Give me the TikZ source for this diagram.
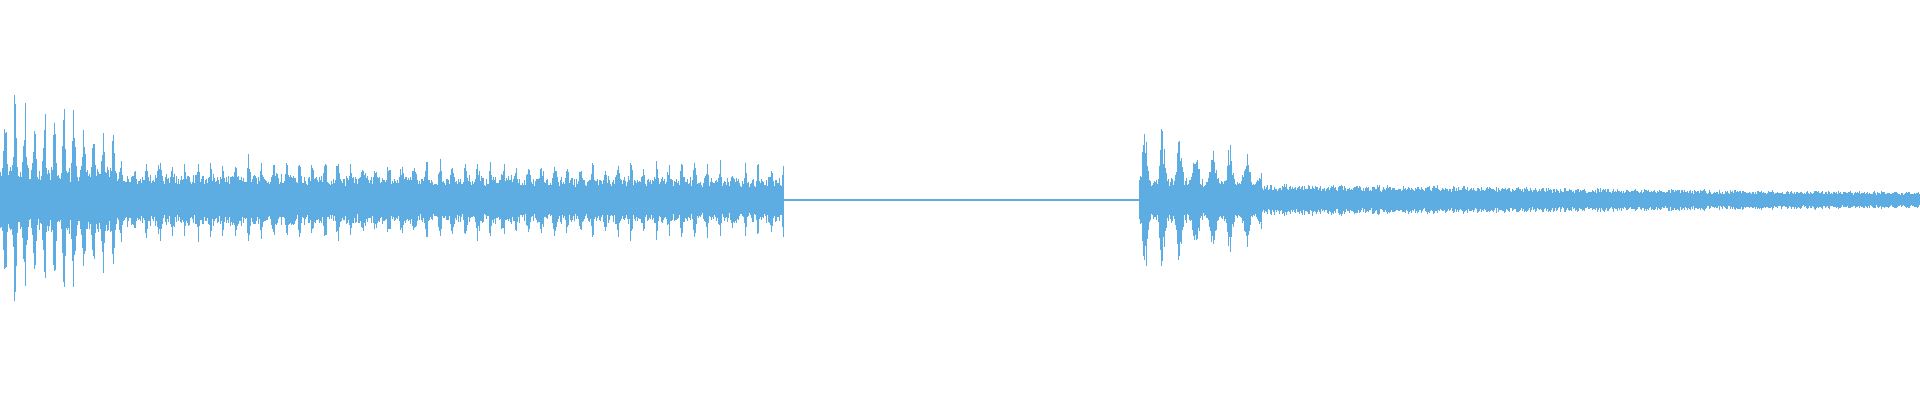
\documentclass[tikz,border=0pt]{standalone}
\definecolor{wave}{RGB}{93,173,226}
\begin{document}
\begin{tikzpicture}[x=1pt,y=1pt,wv/.style={wave,line width=0.75pt}]
\useasboundingbox (0,0) rectangle (1920,400);
\pgfmathsetseed{7}
\draw[wave,line width=0.5pt] (785,200) -- (1142,200);
\foreach \i in {0,1,...,1919}{
  \pgfmathsetmacro\d{\i/1.2245}
  \pgfmathsetmacro\sa{sin(mod(\d,16)*22.5)}
  \pgfmathsetmacro\sb{sin(mod(\d,20.8)*17.3)}
  \pgfmathsetmacro\sc{sin(mod(\d,27.7)*13)}
  \pgfmathsetmacro\env{\d<95 ? (28+(70-0.5*max(\d-25,0))*pow(abs(\sa),6)) :
    (\d<640 ? (24-\d*0.008+16*pow(abs(\sb),12)) :
    (\d<930 ? 1 :
    (\d<1030 ? (20+50*pow(abs(\sc),6)*(1-(\d-930)/170)) :
    (14-(\d-1030)*0.013))))}
  \pgfmathsetmacro\r{0.6+0.4*rnd}
  \pgfmathsetmacro\up{1.2245*\env*\r*(0.85+0.15*rnd)}
  \pgfmathsetmacro\dn{1.2245*\env*\r*(0.85+0.15*rnd)}
  \draw[wv] (\i,200+\up) -- (\i,200-\dn);
}
\end{tikzpicture}
\end{document}
